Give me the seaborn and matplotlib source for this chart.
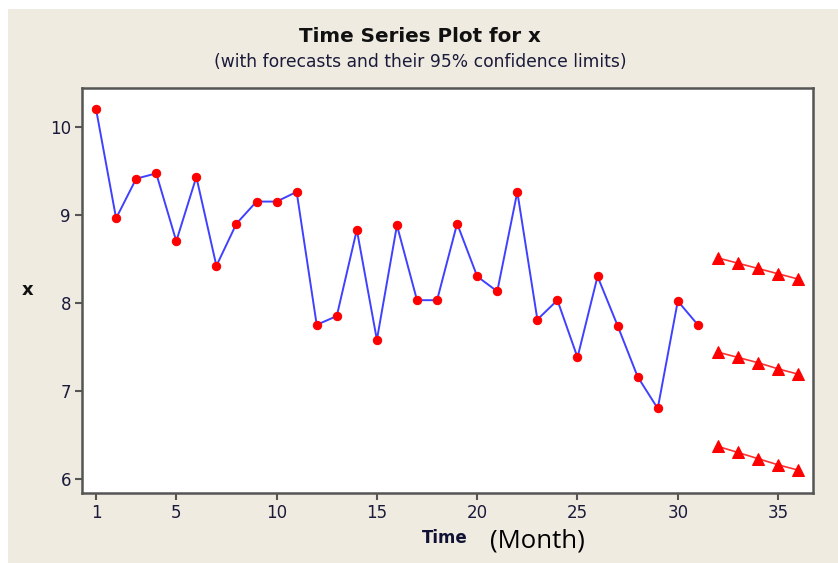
import matplotlib
matplotlib.use('Agg')
import matplotlib.pyplot as plt
from matplotlib.patches import Rectangle
import seaborn as sns
import pandas as pd

time = list(range(1, 32))
x_vals = [10.20, 8.96, 9.41, 9.47, 8.70, 9.43, 8.42, 8.90, 9.15, 9.15,
          9.26, 7.75, 7.85, 8.83, 7.58, 8.88, 8.03, 8.03, 8.90, 8.30,
          8.13, 9.26, 7.81, 8.03, 7.38, 8.30, 7.74, 7.16, 6.80, 8.02, 7.75]
fc_time = [32, 33, 34, 35, 36]
upper = [8.51, 8.45, 8.39, 8.33, 8.27]
forecast = [7.44, 7.38, 7.32, 7.25, 7.19]
lower = [6.37, 6.30, 6.23, 6.16, 6.10]
x_ticks = [1, 5, 10, 15, 20, 25, 30, 35]
y_ticks = [6, 7, 8, 9, 10]

sns.set_style('white')
plt.rcParams['font.family'] = ['DejaVu Sans']

W, H = 838, 563
fig = plt.figure(figsize=(W / 100, H / 100), dpi=100)
fig.patch.set_facecolor('white')
fig.patches.append(Rectangle((8 / W, 0), (W - 8) / W, (H - 9) / H,
                             transform=fig.transFigure, facecolor='#EFEBE1',
                             edgecolor='none', zorder=-10))

ax = fig.add_axes([82 / W, 1 - 493 / H, (813 - 82) / W, (493 - 88) / H])
ax.set_facecolor('white')

df = pd.DataFrame({'Time': time, 'x': x_vals})
sns.lineplot(data=df, x='Time', y='x', ax=ax, color='#4040FF', lw=1.4,
             marker='o', markersize=6, markerfacecolor='red',
             markeredgecolor='red', zorder=3)

for series in (upper, forecast, lower):
    fdf = pd.DataFrame({'Time': fc_time, 'x': series})
    sns.lineplot(data=fdf, x='Time', y='x', ax=ax, color='#FF3030', lw=1.2,
                 marker='^', markersize=8, markerfacecolor='red',
                 markeredgecolor='red', zorder=3)

ax.set_xlim(0.30, 36.74)
ax.set_ylim(5.84, 10.44)
ax.set_xticks(x_ticks)
ax.set_yticks(y_ticks)
ax.set_xlabel('')
ax.set_ylabel('')
ax.tick_params(direction='out', length=5, width=1.5, color='#555555',
               labelsize=12, labelcolor='#1a1a3a', pad=3, left=True, bottom=True)
for s in ax.spines.values():
    s.set_color('#555555')
    s.set_linewidth(1.8)

fig.text(420 / W, 1 - 37 / H, 'Time Series Plot for x', ha='center', va='center',
         fontsize=14.3, fontweight='bold', color='#111111')
fig.text(420 / W, 1 - 62 / H, '(with forecasts and their 95% confidence limits)',
         ha='center', va='center', fontsize=12.3, color='#1a1a3a')
fig.text(28 / W, 1 - 290 / H, 'x', ha='center', va='center', fontsize=13,
         fontweight='bold', color='#111111')
fig.text(445 / W, 1 - 538 / H, 'Time', ha='center', va='center', fontsize=12,
         fontweight='bold', color='#111133')
fig.text(490 / W, 1 - 541 / H, '(Month)', ha='left', va='center', fontsize=18.5,
         family='Open Sans', color='black')

fig.savefig('out.png', dpi=100, facecolor=fig.get_facecolor())
